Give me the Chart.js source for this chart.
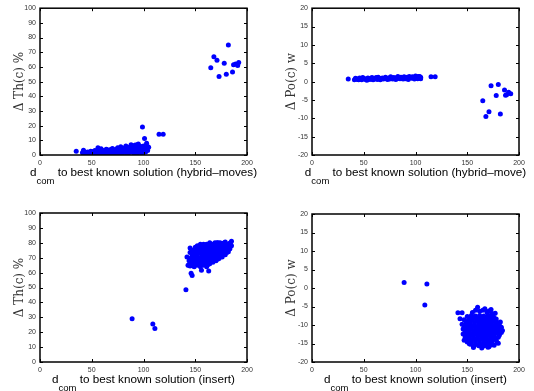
<!DOCTYPE html>
<html>
<head>
<meta charset="utf-8">
<script src="https://cdn.jsdelivr.net/npm/chart.js@4.4.1/dist/chart.umd.min.js"></script>
<style>
  body { margin: 0; background: #fff; }
  canvas { position: absolute; }
</style>
</head>
<body>
<canvas id="c1" width="267" height="195" style="left:0;top:0"></canvas>
<canvas id="c2" width="267" height="195" style="left:267px;top:0"></canvas>
<canvas id="c3" width="267" height="196" style="left:0;top:195px"></canvas>
<canvas id="c4" width="267" height="196" style="left:267px;top:195px"></canvas>
<script>
// tick labels
const xTicks = [0, 50, 100, 150, 200];
const thTicks = [0, 10, 20, 30, 40, 50, 60, 70, 80, 90, 100];
const poTicks = [-20, -15, -10, -5, 0, 5, 10, 15, 20];

// d_com vs delta Th(c) %, hybrid moves  [x, y]
const hybridTh = [
  [35, 2.5], [41, 1.5], [42, 3.2], [44, 0.8], [46, 2.1], [48, 1.2], [49, 2.6], [50, 0.3],
  [51, 0.6], [52, 1.9], [53, 3.0], [54, 0.2], [55, 1.1], [56, 5.0], [57, 2.4], [58, 0.9],
  [59, 4.2], [60, 1.7], [61, 3.1], [62, 0.7], [63, 2.3], [64, 4.0], [65, 1.2], [66, 2.9],
  [67, 0.8], [68, 3.6], [69, 2.0], [70, 4.4], [71, 1.0], [72, 2.7], [73, 3.8], [74, 1.5],
  [75, 4.9], [76, 0.9], [77, 2.6], [78, 5.6], [79, 3.3], [80, 1.4], [81, 4.5], [82, 2.2],
  [83, 6.1], [84, 0.8], [85, 3.5], [86, 5.2], [87, 1.9], [88, 4.1], [89, 6.5], [90, 2.7],
  [91, 0.9], [92, 4.8], [93, 3.2], [94, 6.9], [95, 1.6], [96, 5.4], [97, 2.5], [98, 4.0],
  [99, 0.8], [100, 6.2], [101, 3.1], [102, 4.6], [103, 8.0], [104, 5.8], [105, 5.2],
  [43, 2.0], [45, 1.3], [47, 0.5], [50, 2.3], [52, 1.0], [54, 2.8], [56, 1.6], [58, 3.2],
  [60, 0.6], [62, 2.0], [64, 1.5], [65, 3.5], [67, 2.0], [69, 4.0], [70, 1.0], [72, 1.8],
  [74, 3.0], [76, 2.0], [77, 4.3], [79, 1.0], [80, 3.2], [82, 5.0], [84, 2.8], [85, 1.2],
  [86, 4.0], [88, 2.0], [90, 5.5], [91, 3.5], [93, 1.5], [94, 4.0], [96, 3.0], [97, 6.0],
  [98, 1.5], [100, 3.8], [102, 2.0], [104, 3.0], [95, 7.5], [88, 7.0], [92, 6.8],
  [99, 19], [101, 11.2], [115, 14.2], [119, 14.2],
  [165, 59.5], [168, 67], [171, 64.5], [173, 53.5], [178, 62.5], [180, 55], [182, 75],
  [186, 56.5], [187, 61.5], [189, 62], [191, 61], [192, 63]
];

// d_com vs delta Po(c) w, hybrid move
const hybridPo = [
  [35, 0.7], [41, 0.5], [42, 0.9], [44, 0.6], [46, 1.0], [48, 0.5], [49, 1.1], [51, 0.7],
  [53, 0.4], [54, 1.0], [56, 0.6], [58, 1.1], [59, 0.5], [61, 0.9], [63, 0.6], [64, 1.2],
  [66, 0.5], [68, 1.0], [69, 0.7], [71, 1.2], [73, 0.6], [74, 1.0], [76, 1.3], [78, 0.7],
  [79, 1.1], [81, 0.6], [83, 1.4], [84, 0.9], [86, 1.2], [88, 0.7], [89, 1.3], [91, 1.0],
  [93, 0.6], [94, 1.4], [96, 0.9], [97, 1.3], [99, 0.7], [100, 1.5], [101, 1.1], [102, 0.8],
  [103, 1.4], [104, 1.0], [105, 1.2],
  [43, 0.8], [45, 0.5], [47, 0.8], [50, 0.9], [52, 0.6], [55, 0.8], [57, 0.9], [60, 0.7],
  [62, 1.1], [65, 0.9], [67, 0.8], [70, 0.9], [72, 0.8], [75, 0.7], [77, 1.0], [80, 0.9],
  [82, 1.1], [85, 0.8], [87, 1.0], [90, 0.8], [92, 1.2], [95, 1.1], [98, 1.0], [100, 0.9],
  [102, 1.3], [104, 1.4], [105, 0.8],
  [115, 1.3], [119, 1.3],
  [165, -5.2], [168, -9.5], [171, -8.2], [173, -1.1], [178, -3.8], [180, -0.8], [182, -8.8],
  [186, -2.3], [187, -3.7], [188, -3.6], [190, -2.9], [192, -3.3]
];

// d_com vs delta Th(c) %, insert
const insertTh = [
  [89, 29], [109, 25.5], [111, 22.5], [141, 48.5], [146, 59.5], [147, 58], [156, 61.5], [163, 61],
  [142, 70.5], [144, 65], [143, 65], [144, 68], [145, 64.5], [145, 73.5], [145, 76.5], [146, 70],
  [147, 66], [147, 72], [148, 75], [149, 64], [149, 68], [150, 71], [149, 74], [150, 77],
  [152, 65], [152, 68.5], [152, 72], [153, 75], [152, 78],
  [155, 64], [155, 67], [156, 70], [155, 73], [156, 76], [155, 79],
  [158, 65], [158, 68], [159, 71], [158, 74], [159, 77], [158, 79],
  [161, 64], [161, 67], [162, 70], [161, 73], [162, 76], [161, 79],
  [164, 66], [164, 69], [165, 72], [164, 75], [165, 78], [164, 80],
  [167, 67], [167, 70], [168, 73], [167, 76], [168, 79],
  [170, 68], [170, 71], [171, 74], [170, 77], [171, 80],
  [173, 69.5], [173, 72.5], [174, 75.5], [173, 78.5], [174, 80],
  [176, 70.5], [176, 73.5], [177, 76.5], [176, 79.5],
  [179, 72], [179, 75], [180, 78], [179, 80.5],
  [182, 74], [182, 77], [183, 79.5], [185, 78], [185, 81],
  [146, 67.5], [147, 69], [146.5, 74.5],
  [150, 66], [150.5, 69.5], [151, 73], [150.5, 75.5],
  [153.5, 66.5], [153.5, 70], [154, 73.5], [153.5, 77],
  [156.5, 65.5], [157, 68.5], [156.5, 72], [157, 75], [156.5, 78],
  [159.5, 66.5], [160, 69.5], [159.5, 73], [160, 76], [160, 78.5],
  [162.5, 65.5], [163, 68], [162.5, 71.5], [163, 74.5], [163, 77.5],
  [165.5, 67.5], [166, 70.5], [165.5, 73.5], [166, 76.5], [166, 79],
  [168.5, 68.5], [169, 71.5], [168.5, 74.5], [169, 77.5], [169, 80],
  [171.5, 69], [172, 72], [171.5, 75], [172, 78], [172, 80],
  [174.5, 71], [175, 74], [174.5, 77], [175, 79.5],
  [177.5, 72], [178, 75], [177.5, 78], [178, 80],
  [180.5, 73.5], [181, 76.5], [180.5, 79],
  [183.5, 76], [184, 78.5], [184, 80]
];

// d_com vs delta Po(c) w, insert
const insertPo = [
  [89, 1.5], [111, 1.1], [109, -4.6],
  [160, -5.2], [167, -5.6],
  [155, -6.6], [162, -6.3], [169, -6.5], [174, -6.9],
  [150, -7.7], [154, -7.4], [158, -7.6], [162, -7.4], [166, -7.6], [170, -7.3], [175, -7.5],
  [147, -8.6], [151, -8.8], [155, -8.5], [159, -8.8], [163, -8.6], [167, -8.8], [171, -8.5], [175, -8.7], [178, -8.4],
  [145, -9.8], [149, -10.0], [153, -9.8], [157, -10.1], [161, -9.8], [165, -10.0], [169, -9.8], [173, -10.1], [177, -9.9], [181, -10.0],
  [146, -11.1], [150, -11.3], [154, -11.0], [158, -11.2], [162, -11.0], [166, -11.3], [170, -11.0], [174, -11.2], [178, -11.1], [182, -11.0],
  [146, -12.4], [150, -12.2], [154, -12.5], [158, -12.2], [162, -12.4], [166, -12.2], [170, -12.5], [174, -12.3], [178, -12.2], [183, -12.0],
  [148, -13.4], [152, -13.6], [156, -13.4], [160, -13.6], [164, -13.5], [168, -13.4], [172, -13.7], [176, -13.5], [180, -13.3],
  [150, -14.6], [154, -14.8], [158, -14.6], [162, -14.9], [166, -14.7], [170, -14.8], [174, -14.6], [179, -14.8],
  [156, -15.8], [161, -15.6], [166, -15.7], [171, -15.9],
  [141, -6.7], [145, -6.7], [143, -8.3], [147, -14.1], [182, -9.2], [184, -11.5], [177, -6.8],
  [173, -5.8], [170, -16.0], [156, -16.1], [152, -15.1], [180, -14.9],
  [158, -6.0], [165, -6.0], [171, -6.2],
  [152, -8.1], [156, -8.0], [160, -8.2], [164, -8.0], [168, -8.1], [172, -7.9], [176, -8.1],
  [149, -9.3], [153, -9.2], [157, -9.4], [161, -9.2], [165, -9.3], [169, -9.2], [173, -9.4], [177, -9.2], [180, -9.4],
  [147, -10.5], [151, -10.6], [155, -10.4], [159, -10.6], [163, -10.5], [167, -10.6], [171, -10.4], [175, -10.6], [179, -10.5], [183, -10.6],
  [148, -11.7], [152, -11.8], [156, -11.6], [160, -11.8], [164, -11.7], [168, -11.6], [172, -11.8], [176, -11.7], [180, -11.6],
  [148, -12.9], [152, -13.0], [156, -12.8], [160, -13.0], [164, -12.9], [168, -13.0], [172, -12.8], [176, -13.0], [181, -12.8],
  [150, -14.0], [154, -14.1], [158, -14.0], [162, -14.2], [166, -14.0], [170, -14.1], [174, -14.0], [178, -14.1],
  [153, -15.2], [158, -15.3], [163, -15.4], [168, -15.2], [173, -15.4],
  [164, -16.2], [176, -15.5]
];

// matlab style box, inward ticks and axis titles
const matlabFrame = {
  id: 'matlabFrame',
  afterDraw(chart) {
    const { ctx, chartArea: a, scales: { x, y } } = chart;
    const o = chart.options.plugins.matlabFrame;
    ctx.save();
    ctx.strokeStyle = '#000';
    ctx.lineWidth = 1;
    ctx.beginPath();
    x.ticks.forEach(t => {
      const px = Math.round(x.getPixelForValue(t.value)) + 0.5;
      ctx.moveTo(px, a.bottom); ctx.lineTo(px, a.bottom - 3);
      ctx.moveTo(px, a.top); ctx.lineTo(px, a.top + 3);
    });
    y.ticks.forEach(t => {
      const py = Math.round(y.getPixelForValue(t.value)) + 0.5;
      ctx.moveTo(a.left, py); ctx.lineTo(a.left + 3, py);
      ctx.moveTo(a.right, py); ctx.lineTo(a.right - 3, py);
    });
    ctx.stroke();
    ctx.lineWidth = 1.5;
    ctx.strokeRect(a.left, a.top, a.right - a.left, a.bottom - a.top);

    // x title with subscript
    ctx.fillStyle = '#000';
    const main = '11.7px "Liberation Sans", Arial, sans-serif';
    const sub = '9.5px "Liberation Sans", Arial, sans-serif';
    const rest = ' to best known solution (' + o.method + ')';
    ctx.font = main;
    const wd = ctx.measureText('d').width;
    const wr = ctx.measureText(rest).width;
    ctx.font = sub;
    const ws = ctx.measureText('com').width;
    const base = a.bottom + 21;
    let sx = (a.left + a.right) / 2 - (wd + ws + wr) / 2;
    ctx.textBaseline = 'alphabetic';
    ctx.textAlign = 'left';
    ctx.font = main;
    ctx.fillText('d', sx, base);
    ctx.font = sub;
    ctx.fillText('com', sx + wd, base + 8);
    ctx.font = main;
    ctx.fillText(rest, sx + wd + ws, base);

    // y title, rotated
    ctx.translate(a.left - 20, (a.top + a.bottom) / 2);
    ctx.rotate(-Math.PI / 2);
    ctx.textAlign = 'center';
    ctx.textBaseline = 'middle';
    ctx.fillStyle = '#333';
    ctx.font = '12px "DejaVu Serif", "Liberation Serif", serif';
    ctx.fillText(o.ytitle, 0, 0);
    ctx.restore();
  }
};

function makeChart(id, points, yTicks, ytitle, method, area) {
  const c = document.getElementById(id);
  return new Chart(c, {
    type: 'scatter',
    data: {
      datasets: [{
        data: points.map(p => ({ x: p[0], y: p[1] })),
        backgroundColor: '#0000ff',
        borderWidth: 0,
        pointRadius: 2.5
      }]
    },
    options: {
      responsive: false,
      animation: false,
      events: [],
      layout: { padding: { left: 0, top: area.top, right: c.width - area.right, bottom: 0 } },
      scales: {
        x: {
          min: 0, max: 200,
          afterBuildTicks: s => { s.ticks = xTicks.map(v => ({ value: v })); },
          afterFit: s => { s.height = c.height - area.bottom; },
          grid: { display: false, drawTicks: false },
          border: { display: false },
          ticks: { padding: 4, color: '#333', font: { size: 7, family: 'Liberation Sans' } }
        },
        y: {
          min: yTicks[0], max: yTicks[yTicks.length - 1],
          afterBuildTicks: s => { s.ticks = yTicks.map(v => ({ value: v })); },
          afterFit: s => { s.width = area.left; },
          grid: { display: false, drawTicks: false },
          border: { display: false },
          ticks: { padding: 4, color: '#333', font: { size: 7, family: 'Liberation Sans' } }
        }
      },
      plugins: {
        legend: { display: false },
        tooltip: { enabled: false },
        matlabFrame: { ytitle: ytitle, method: method }
      }
    },
    plugins: [matlabFrame]
  });
}

makeChart('c1', hybridTh, thTicks, '\u0394 Th(c) %', 'hybrid\u2013moves', { left: 40, top: 6, right: 247, bottom: 155 });
makeChart('c2', hybridPo, poTicks, '\u0394 Po(c) w', 'hybrid\u2013move', { left: 45, top: 6, right: 252, bottom: 155 });
makeChart('c3', insertTh, thTicks, '\u0394 Th(c) %', 'insert', { left: 40, top: 18, right: 247, bottom: 167 });
makeChart('c4', insertPo, poTicks, '\u0394 Po(c) w', 'insert', { left: 45, top: 19, right: 252, bottom: 167 });
</script>
</body>
</html>
